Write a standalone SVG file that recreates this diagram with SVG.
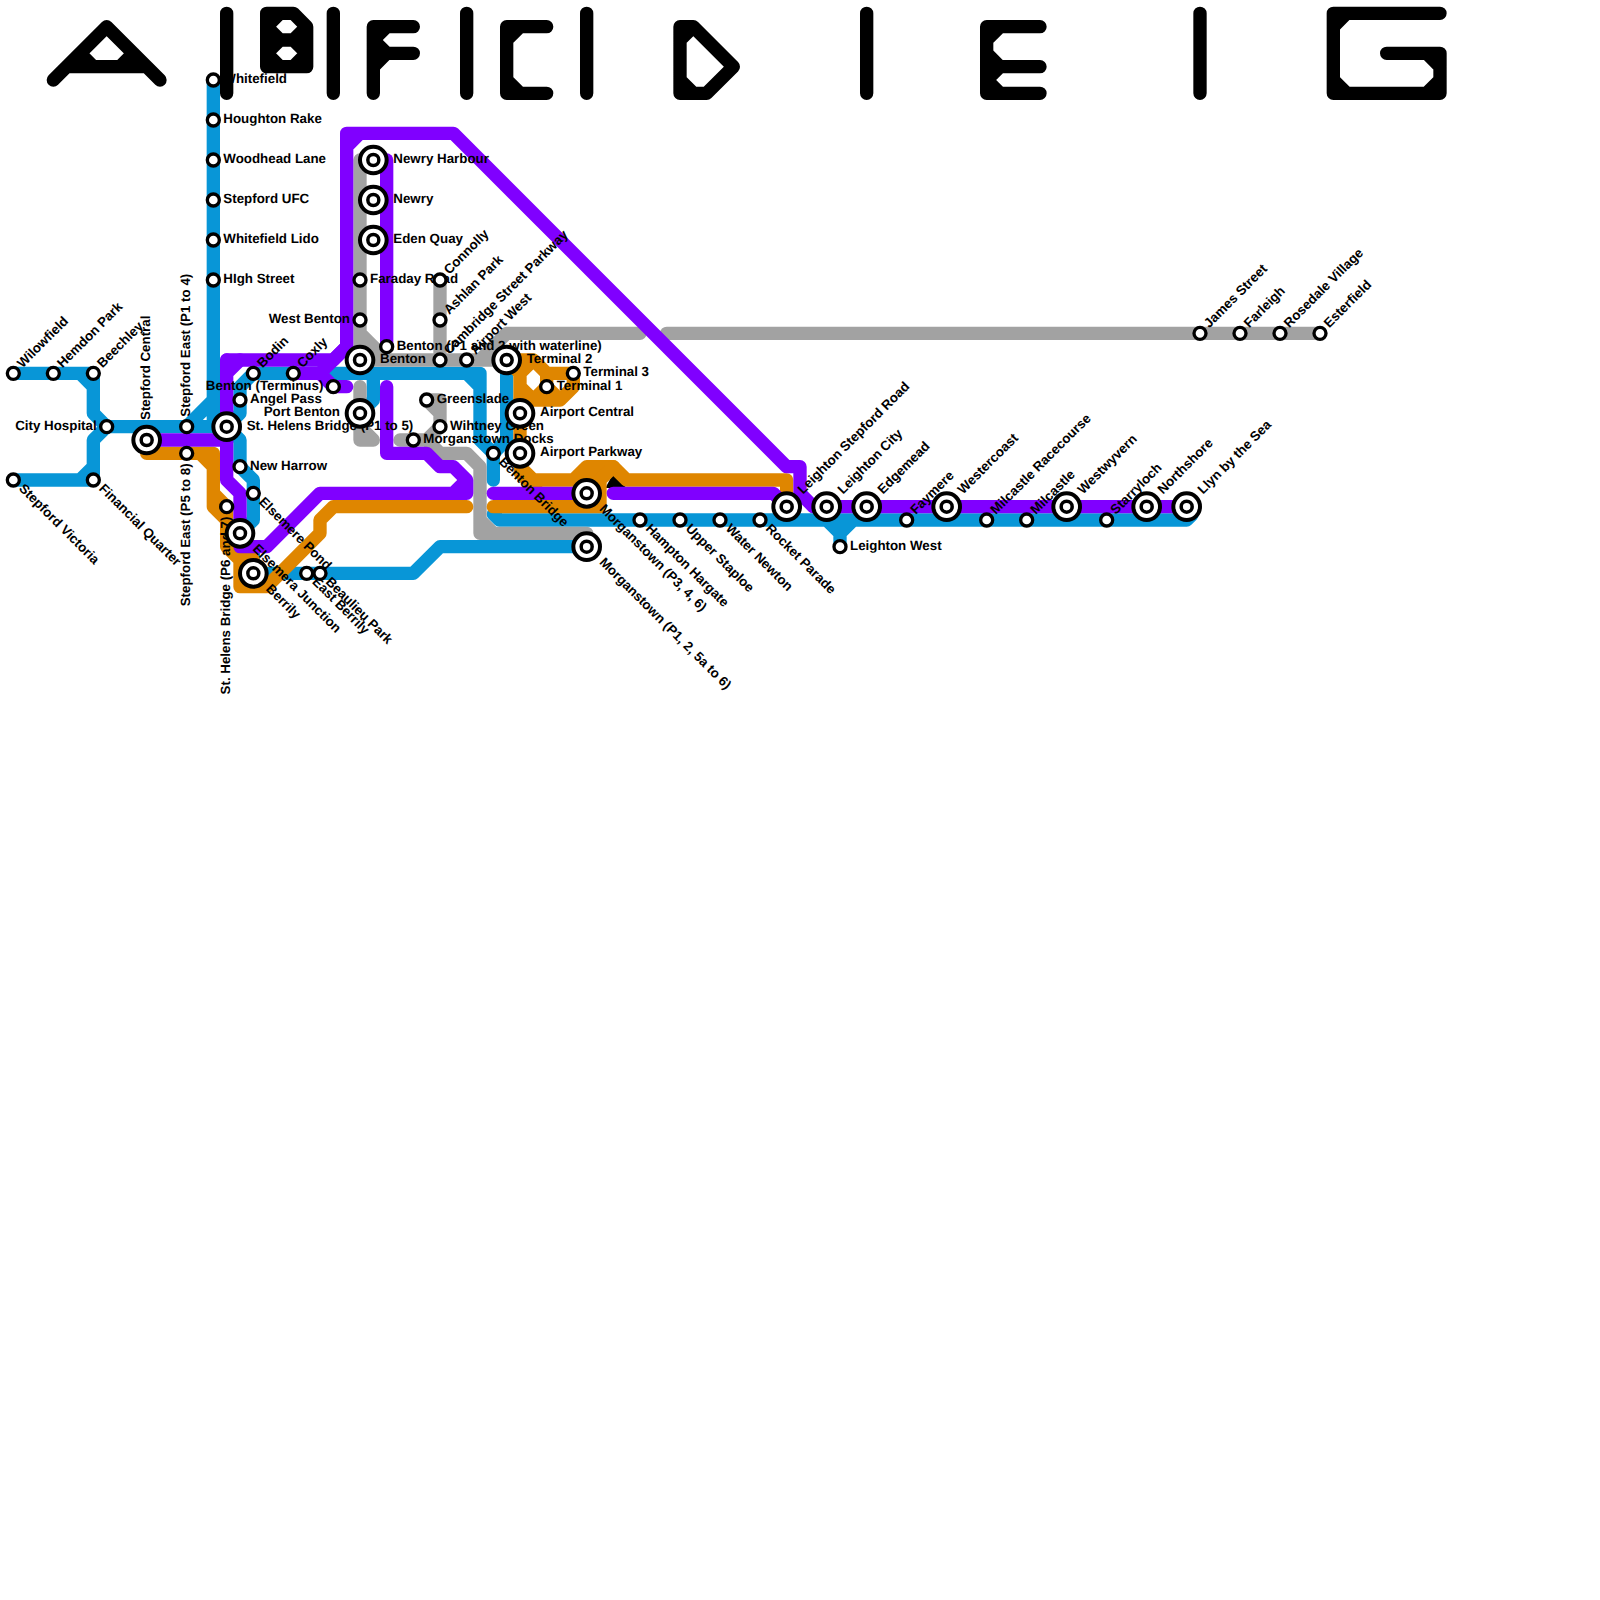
<svg xmlns="http://www.w3.org/2000/svg" width="1600" height="1600" viewBox="0 0 1600 1600">
<style>
.l path{fill:none;stroke-width:1;stroke-linecap:round;stroke-linejoin:round}
.blue path{stroke:#0896d7}.gray path{stroke:#a2a2a2}.orange path{stroke:#df8600}.purple path{stroke:#8000ff}.black path{stroke:#000}
text{font-family:"Liberation Sans",Arial,sans-serif;font-weight:700;font-size:13.33px;fill:#000;text-rendering:geometricPrecision}
.e{text-anchor:end}
.ne{transform:rotate(-45deg)}
.se{transform:rotate(45deg)}
.v{transform:rotate(-90deg)}
.s{fill:#fff;stroke:#000;stroke-width:3.33px}
.i{fill:#fff;stroke:#000;stroke-width:3.5px}
.b{fill:#fff;stroke:#000;stroke-width:4px}
</style>
<defs>
<g id="st"><circle class="s" r="6"/></g>
<g id="ic"><circle class="b" r="13.33"/><circle class="i" r="5.5"/></g>
</defs>
<g id="connectors" transform="scale(13.33333)">
<g id="line-blue" class="l blue">
<path d="M16 6V32M16 30L14 32"/>
<path d="M1 28H7V31L8 32H17L18 33V35L19 36V39L18 40M6 28L7 29"/>
<path d="M1 36H7V33L8 32M6 36L7 35"/>
<path d="M17 32L18 31V29L19 28H36V33L37 34V36M35 28L36 29"/>
<path d="M19 41.5V43H31L33 41H44"/>
<path d="M28 28V30L27 31"/>
<path d="M38 27V33L37 34"/>
<path d="M37 38.55L37.45 39H89L89.4 38.6M62 39L63 40V41M64 39L63 40"/>
</g>
<g id="line-gray" class="l gray">
<path d="M27 12V27M27 25L29 27M27 27H37M36 27L38 25H48"/>
<path d="M50 25H99"/>
<path d="M33 21V27"/>
<path d="M27 29V33H28M27 32L28 33"/>
<path d="M32 30H33V32L32 33M32 30L33 31M30 33H32L33 34H35L36 35V40H44V41M36 39L37 40"/>
</g>
<polygon id="wedge" points="45.4,36.6 46,35.5 47,36.6" fill="#000"/>
<g id="line-orange" class="l orange">
<path d="M11 33V34H16V38L17 39V41L18 42V44H20L24 40V39L25 38H35M15 34L16 35M16 37L17 38V39M17 40L19 42"/>
<path d="M38 27H40L41 28H43V29L42 30H39V28M38 27L39 28M39 28L40 27M39 29L40 30L41 29M41 28V30M41 29L42 30"/>
<path d="M39 30V35L40 36H45M43 36L44 35H46L47 36H59V38M39 35.45L40.2 36.65"/>
<path d="M37 38H45V36L46 35"/>
</g>
<g id="line-purple" class="l purple">
<path d="M11 33H17M17 28L18 27M17 27V36L18 37V41H20L24 37H35V36L34 35H33L32 34H29V29M34 37L35 36"/>
<path d="M17 27H25L26 26V10H34L59 35H60V37L61 38H89M26 11L27 10"/>
<path d="M22 28H24L26 26M24 28L25 29H26"/>
<path d="M29 12V26"/>
<path d="M37 37H44"/>
<path d="M46 37H58L59 38"/>
</g>
</g>
<g id="nodes">
<g id="n-st-helens-1"><text x="246.67" y="429.67">St. Helens Bridge (P1 to 5)</text><use href="#ic" x="226.67" y="426.67"/></g>
<g id="n-whitefield" transform="translate(213.33 80)"><text x="10" y="3">Whitefield</text><use href="#st"/></g>
<g id="n-houghton-rake" transform="translate(213.33 120)"><text x="10" y="3">Houghton Rake</text><use href="#st"/></g>
<g id="n-woodhead-lane" transform="translate(213.33 160)"><text x="10" y="3">Woodhead Lane</text><use href="#st"/></g>
<g id="n-stepford-ufc" transform="translate(213.33 200)"><text x="10" y="3">Stepford UFC</text><use href="#st"/></g>
<g id="n-whitefield-lido" transform="translate(213.33 240)"><text x="10" y="3">Whitefield Lido</text><use href="#st"/></g>
<g id="n-high-street" transform="translate(213.33 280)"><text x="10" y="3">HIgh Street</text><use href="#st"/></g>
<g id="n-newry-harbour" transform="translate(373.33 160)"><text x="20" y="3">Newry Harbour</text><use href="#ic"/></g>
<g id="n-newry" transform="translate(373.33 200)"><text x="20" y="3">Newry</text><use href="#ic"/></g>
<g id="n-eden-quay" transform="translate(373.33 240)"><text x="20" y="3">Eden Quay</text><use href="#ic"/></g>
<g id="n-faraday-road" transform="translate(360 280)"><text x="10" y="3">Faraday Road</text><use href="#st"/></g>
<g id="n-west-benton" transform="translate(360 320)"><text class="e" x="-10" y="3">West Benton</text><use href="#st"/></g>
<g id="n-connolly" transform="translate(440 280)"><text class="ne" x="10" y="3">Connolly</text><use href="#st"/></g>
<g id="n-ashlan-park" transform="translate(440 320)"><text class="ne" x="10" y="3">Ashlan Park</text><use href="#st"/></g>
<g id="n-benton-p1" transform="translate(386.67 346.67)"><text x="10" y="3">Benton (P1 and 2 with waterline)</text><use href="#st"/></g>
<g id="n-cambridge" transform="translate(440 360)"><text class="ne" x="10" y="3">Cambridge Street Parkway</text><use href="#st"/></g>
<g id="n-airport-west" transform="translate(466.67 360)"><text class="ne" x="10" y="3">Airport West</text><use href="#st"/></g>
<g id="n-benton" transform="translate(360 360)"><text x="20" y="3">Benton</text><use href="#ic"/></g>
<g id="n-port-benton" transform="translate(360 413.33)"><text class="e" x="-20" y="3">Port Benton</text><use href="#ic"/></g>
<g id="n-benton-terminus" transform="translate(333.33 386.67)"><text class="e" x="-10" y="3">Benton (Terminus)</text><use href="#st"/></g>
<g id="n-willowfield" transform="translate(13.33 373.33)"><text class="ne" x="10" y="3">Wilowfield</text><use href="#st"/></g>
<g id="n-hemdon-park" transform="translate(53.33 373.33)"><text class="ne" x="10" y="3">Hemdon Park</text><use href="#st"/></g>
<g id="n-beechley" transform="translate(93.33 373.33)"><text class="ne" x="10" y="3">Beechley</text><use href="#st"/></g>
<g id="n-city-hospital" transform="translate(106.67 426.67)"><text class="e" x="-10" y="3">City Hospital</text><use href="#st"/></g>
<g id="n-stepford-central" transform="translate(146.67 440)"><text class="v" x="20" y="3">Stepford Central</text><use href="#ic"/></g>
<g id="n-stepford-east-p1" transform="translate(186.67 426.67)"><text class="v" x="10" y="3">Stepford East (P1 to 4)</text><use href="#st"/></g>
<g id="n-stepford-east-p5" transform="translate(186.67 453.33)"><text class="v e" x="-10" y="3">Stepford East (P5 to 8)</text><use href="#st"/></g>
<g id="n-stepford-victoria" transform="translate(13.33 480)"><text class="se" x="10" y="3">Stepford Victoria</text><use href="#st"/></g>
<g id="n-financial-quarter" transform="translate(93.33 480)"><text class="se" x="10" y="3">Financial Quarter</text><use href="#st"/></g>
<g id="n-bodin" transform="translate(253.33 373.33)"><text class="ne" x="10" y="3">Bodin</text><use href="#st"/></g>
<g id="n-coxly" transform="translate(293.33 373.33)"><text class="ne" x="10" y="3">Coxly</text><use href="#st"/></g>
<g id="n-angel-pass" transform="translate(240 400)"><text x="10" y="3">Angel Pass</text><use href="#st"/></g>
<g id="n-new-harrow" transform="translate(240 466.67)"><text x="10" y="3">New Harrow</text><use href="#st"/></g>
<g id="n-elsemere-pond" transform="translate(253.33 493.33)"><text class="se" x="10" y="3">Elsemere Pond</text><use href="#st"/></g>
<g id="n-st-helens-2" transform="translate(226.67 506.67)"><text class="v e" x="-10" y="3">St. Helens Bridge (P6 and 7)</text><use href="#st"/></g>
<g id="n-elsemera-junction" transform="translate(240 533.33)"><text class="se" x="20" y="3">Elsemera Junction</text><use href="#ic"/></g>
<g id="n-berrily" transform="translate(253.33 573.33)"><text class="se" x="20" y="3">Berrily</text><use href="#ic"/></g>
<g id="n-east-berrily" transform="translate(306.67 573.33)"><text class="se" x="10" y="3">East Berrily</text><use href="#st"/></g>
<g id="n-beaulieu-park" transform="translate(320 573.33)"><text class="se" x="10" y="3">Beaulieu Park</text><use href="#st"/></g>
<g id="n-greenslade" transform="translate(426.67 400)"><text x="10" y="3">Greenslade</text><use href="#st"/></g>
<g id="n-whitney-green" transform="translate(440 426.67)"><text x="10" y="3">Wihtney Green</text><use href="#st"/></g>
<g id="n-morganstown-docks" transform="translate(413.33 440)"><text x="10" y="3">Morganstown Docks</text><use href="#st"/></g>
<g id="n-benton-bridge" transform="translate(493.33 453.33)"><text class="se" x="10" y="3">Benton Bridge</text><use href="#st"/></g>
<g id="n-terminal-2" transform="translate(506.67 360)"><text x="20" y="3">Terminal 2</text><use href="#ic"/></g>
<g id="n-terminal-3" transform="translate(573.33 373.33)"><text x="10" y="3">Terminal 3</text><use href="#st"/></g>
<g id="n-terminal-1" transform="translate(546.67 386.67)"><text x="10" y="3">Terminal 1</text><use href="#st"/></g>
<g id="n-airport-central" transform="translate(520 413.33)"><text x="20" y="3">Airport Central</text><use href="#ic"/></g>
<g id="n-airport-parkway" transform="translate(520 453.33)"><text x="20" y="3">Airport Parkway</text><use href="#ic"/></g>
<g id="n-morganstown-p3" transform="translate(586.67 493.33)"><text class="se" x="20" y="3">Morganstown (P3, 4, 6)</text><use href="#ic"/></g>
<g id="n-morganstown-p1" transform="translate(586.67 546.67)"><text class="se" x="20" y="3">Morganstown (P1, 2, 5a to 6)</text><use href="#ic"/></g>
<g id="n-hampton-hargate" transform="translate(640 520)"><text class="se" x="10" y="3">Hampton Hargate</text><use href="#st"/></g>
<g id="n-upper-staploe" transform="translate(680 520)"><text class="se" x="10" y="3">Upper Staploe</text><use href="#st"/></g>
<g id="n-water-newton" transform="translate(720 520)"><text class="se" x="10" y="3">Water Newton</text><use href="#st"/></g>
<g id="n-rocket-parade" transform="translate(760 520)"><text class="se" x="10" y="3">Rocket Parade</text><use href="#st"/></g>
<g id="n-leighton-stepford-road" transform="translate(786.67 506.67)"><text class="ne" x="20" y="3">Leighton Stepford Road</text><use href="#ic"/></g>
<g id="n-leighton-city" transform="translate(826.67 506.67)"><text class="ne" x="20" y="3">Leighton City</text><use href="#ic"/></g>
<g id="n-leighton-west" transform="translate(840 546.67)"><text x="10" y="3">Leighton West</text><use href="#st"/></g>
<g id="n-edgemead" transform="translate(866.67 506.67)"><text class="ne" x="20" y="3">Edgemead</text><use href="#ic"/></g>
<g id="n-faymere" transform="translate(906.67 520)"><text class="ne" x="10" y="3">Faymere</text><use href="#st"/></g>
<g id="n-westercoast" transform="translate(946.67 506.67)"><text class="ne" x="20" y="3">Westercoast</text><use href="#ic"/></g>
<g id="n-milcastle-racecourse" transform="translate(986.67 520)"><text class="ne" x="10" y="3">Milcastle Racecourse</text><use href="#st"/></g>
<g id="n-milcastle" transform="translate(1026.67 520)"><text class="ne" x="10" y="3">Milcastle</text><use href="#st"/></g>
<g id="n-westwyvern" transform="translate(1066.67 506.67)"><text class="ne" x="20" y="3">Westwyvern</text><use href="#ic"/></g>
<g id="n-starryloch" transform="translate(1106.67 520)"><text class="ne" x="10" y="3">Starryloch</text><use href="#st"/></g>
<g id="n-northshore" transform="translate(1146.67 506.67)"><text class="ne" x="20" y="3">Northshore</text><use href="#ic"/></g>
<g id="n-llyn" transform="translate(1186.67 506.67)"><text class="ne" x="20" y="3">Llyn by the Sea</text><use href="#ic"/></g>
<g id="n-james-street" transform="translate(1200 333.33)"><text class="ne" x="10" y="3">James Street</text><use href="#st"/></g>
<g id="n-farleigh" transform="translate(1240 333.33)"><text class="ne" x="10" y="3">Farleigh</text><use href="#st"/></g>
<g id="n-rosedale-village" transform="translate(1280 333.33)"><text class="ne" x="10" y="3">Rosedale Village</text><use href="#st"/></g>
<g id="n-esterfield" transform="translate(1320 333.33)"><text class="ne" x="10" y="3">Esterfield</text><use href="#st"/></g>
</g>
<g id="black-lines" class="l black" transform="scale(13.33333)">
<path d="M4 6L8 2L12 6M5 5H11M6 4L7 5M10 4L9 5"/>
<path d="M17 1V7M25 1V7M35 1V7M44 1V7M65 1V7M90 1V7"/>
<path d="M20 1H22L23 2V5H20ZM20 3H23M20 2L21 1M20 2L21 3M22 1L23 2M22 3L23 2M20 4L21 3M20 4L21 5M22 3L23 4M22 5L23 4"/>
<path d="M28 7V2H31M28 4H31M28 3L29 2M28 3L29 4M28 5L29 4"/>
<path d="M41 2H38V7H41M38 3L39 2M38 6L39 7"/>
<path d="M51 2H52L55 5L53 7H51ZM51 3L52 2M51 6L52 7"/>
<path d="M78 2H74V7H78M74 5H78M74 3L75 2M74 4L75 5M74 6L75 5M74 6L75 7"/>
<path d="M108 1H100V7H108V4H104M100 2L101 1M100 6L101 7M107 7L108 6M107 4L108 5"/>
</g>
</svg>
